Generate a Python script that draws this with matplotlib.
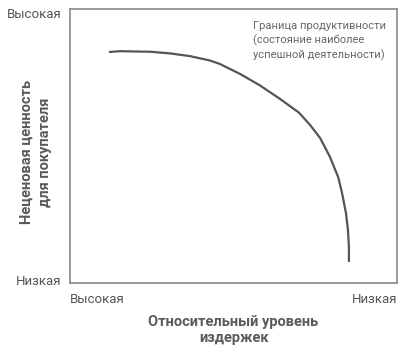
import matplotlib.pyplot as plt
from matplotlib import font_manager

names = {f.name for f in font_manager.fontManager.ttflist}
narrow = 'Liberation Sans Narrow' if 'Liberation Sans Narrow' in names else 'Roboto'
plt.rcParams['font.family'] = [narrow, 'DejaVu Sans']

# frontier curve (0-100 scale on both axes)
cost = [11.9, 15.3, 24.5, 30.6, 36.7, 42.8, 45.9, 52.0, 58.1, 64.2, 70.0,
        73.4, 76.5, 79.5, 82.0, 83.2, 84.4, 85.0, 85.3, 85.3]
value = [84.3, 84.6, 84.4, 83.8, 82.8, 81.2, 79.9, 76.3, 72.1, 67.2, 62.2,
         57.7, 52.9, 46.0, 38.7, 32.8, 25.5, 19.3, 13.1, 7.7]

y_ticks = [98.5, 1]
y_labels = ['Высокая', 'Низкая']
x_labels = ['Высокая', 'Низкая']

fig = plt.figure(figsize=(4.08, 3.53), dpi=100)
ax = fig.add_axes([70/408, 70/353, 327/408, 274/353])
ax.set_xlim(0, 100)
ax.set_ylim(0, 100)

ax.plot(cost, value, color='#555555', lw=1.6, solid_capstyle='butt',
        solid_joinstyle='round')

for s in ax.spines.values():
    s.set_color('#8a8a8a')
    s.set_linewidth(1.2)

ax.set_yticks(y_ticks)
ax.set_yticklabels(y_labels, fontsize=9.5, color='#555555')
ax.tick_params(axis='y', length=0, pad=6)
ax.set_xticks([])

ax.text(0.0, -0.035, x_labels[0], transform=ax.transAxes, ha='left', va='top',
        fontsize=9.5, color='#555555')
ax.text(1.0, -0.035, x_labels[1], transform=ax.transAxes, ha='right', va='top',
        fontsize=9.5, color='#555555')

ax.text(0.5, -0.115, 'Относительный уровень\nиздержек', transform=ax.transAxes,
        ha='center', va='top', fontsize=10.5, fontweight='bold', color='#5a5a5a',
        linespacing=1.25)

fig.text(36/408, 1 - 152/353, 'Неценовая ценность\nдля покупателя', rotation=90,
         ha='center', va='center', fontsize=10.5, fontweight='bold', color='#5a5a5a',
         linespacing=1.35)

ax.text(0.56, 0.955, 'Граница продуктивности\n(состояние наиболее\nуспешной деятельности)',
        transform=ax.transAxes, ha='left', va='top', fontsize=8, color='#666666',
        linespacing=1.4)

fig.savefig('out.png', dpi=100)
